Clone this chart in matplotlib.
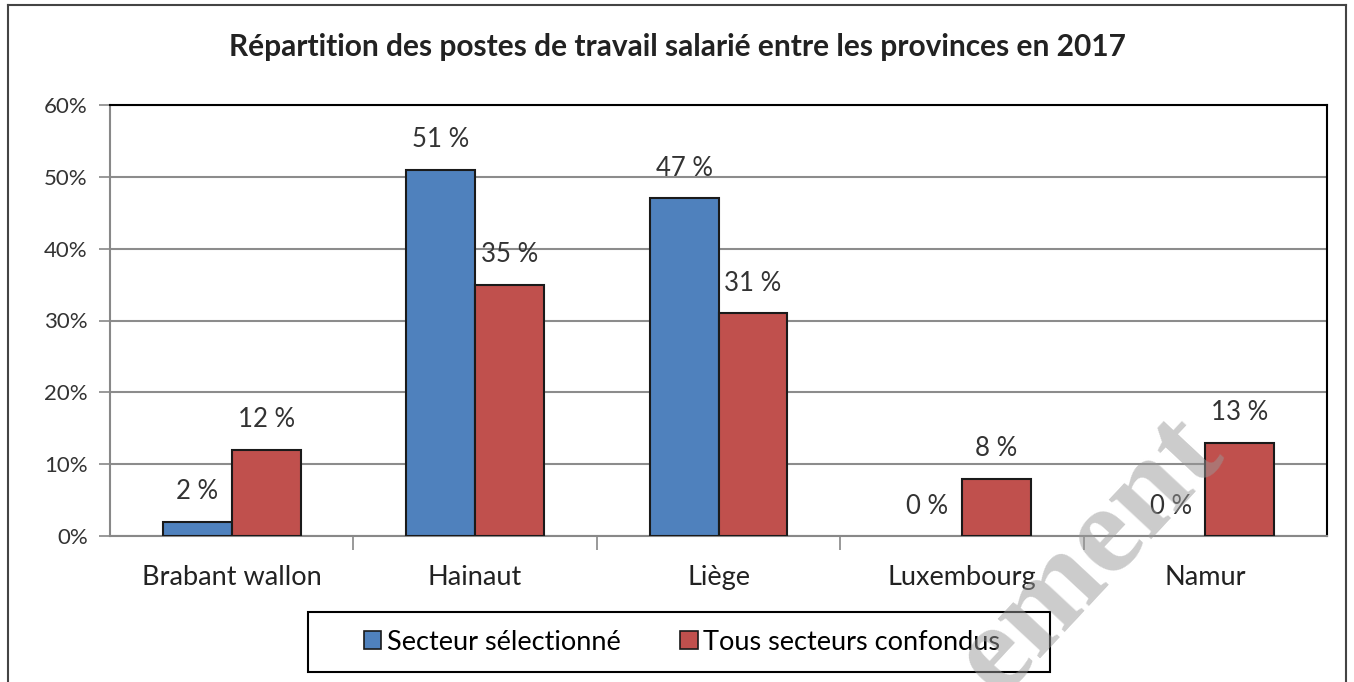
import matplotlib.pyplot as plt
import numpy as np
from matplotlib.lines import Line2D
from matplotlib.patches import Rectangle

plt.rcParams['font.family'] = ['Lato', 'DejaVu Sans']

# données
provinces = ['Brabant wallon', 'Hainaut', 'Liège', 'Luxembourg', 'Namur']
secteur = [2, 51, 47, 0, 0]
tous = [12, 35, 31, 8, 13]
series_names = ['Secteur sélectionné', 'Tous secteurs confondus']
title = 'Répartition des postes de travail salarié entre les provinces en 2017'

blue = '#4F81BD'
red = '#C0504D'

fig = plt.figure(figsize=(13.54, 6.82), dpi=100)
ax = fig.add_axes([110 / 1354, 1 - 536 / 682, 1217 / 1354, 431 / 682])

x = np.arange(len(provinces))
w = 0.283
b1 = ax.bar(x - w / 2, secteur, w, color=blue, edgecolor='#1a1a1a',
            linewidth=[1.5 if v else 0 for v in secteur], zorder=3)
b2 = ax.bar(x + w / 2, tous, w, color=red, edgecolor='#1a1a1a',
            linewidth=[1.5 if v else 0 for v in tous], zorder=3)

for bars, vals in ((b1, secteur), (b2, tous)):
    for r, v in zip(bars, vals):
        ax.annotate(f'{v} %', (r.get_x() + r.get_width() / 2, r.get_height()),
                    xytext=(0, 30), textcoords='offset pixels',
                    ha='center', va='center', fontsize=18.5, color='#333333')

ax.set_xlim(-0.5, len(provinces) - 0.5)
ax.set_ylim(0, 60)
ax.set_yticks(range(0, 61, 10))
ax.set_yticklabels([f'{t}%' for t in range(0, 61, 10)], fontsize=16, color='#333333')
ax.set_xticks(x)
ax.set_xticklabels(provinces, fontsize=19.5, color='#222222')
ax.tick_params(axis='x', which='major', length=0, pad=21)
ax.set_xticks(np.arange(0.5, len(provinces) - 0.5, 1), minor=True)
ax.tick_params(axis='x', which='minor', length=10, color='#888888', width=1.2)
ax.tick_params(axis='y', length=8, color='#888888', width=1.2, pad=8)

ax.grid(axis='y', color='#8c8c8c', linewidth=1.5, zorder=0)
ax.spines['left'].set_color('#888888')
ax.spines['bottom'].set_color('#888888')
ax.spines['top'].set_color('black')
ax.spines['right'].set_color('black')
for s in ax.spines.values():
    s.set_linewidth(1.5)

fig.text(0.5, 1 - 47 / 682, title, ha='center', va='center', fontsize=21.5,
         fontweight='bold', color='#222222')

# légende dans un cadre fixe
fig.add_artist(Rectangle((308 / 1354, 1 - 672 / 682), 742 / 1354, 60 / 682,
                         transform=fig.transFigure, fill=False, edgecolor='black', linewidth=1.5))
handles = [plt.Rectangle((0, 0), 1, 1, facecolor=c, edgecolor='#1a1a1a', linewidth=1.2)
           for c in (blue, red)]
leg = fig.legend(handles, series_names, loc='center', bbox_to_anchor=(682 / 1354, 1 - 642 / 682),
                 ncol=2, fontsize=19.5, frameon=False,
                 handlelength=0.65, handleheight=0.65, handletextpad=0.2, columnspacing=2.2,
                 borderpad=0, borderaxespad=0)

# cadre extérieur
for xs, ys in (([8, 8], [0, 677]), ([8, 1346], [677, 677]), ([1346, 1346], [677, 0])):
    fig.add_artist(Line2D([v / 1354 for v in xs], [v / 682 for v in ys],
                          color='#444444', linewidth=1.5))

# filigrane
fig.text(1090 / 1354, 1 - 556 / 682, 'ement', rotation=47, ha='center', va='center',
         fontsize=92, fontweight='bold', family='Liberation Serif', color='#999999',
         alpha=0.5, zorder=10)

fig.savefig('out.png', dpi=100)
